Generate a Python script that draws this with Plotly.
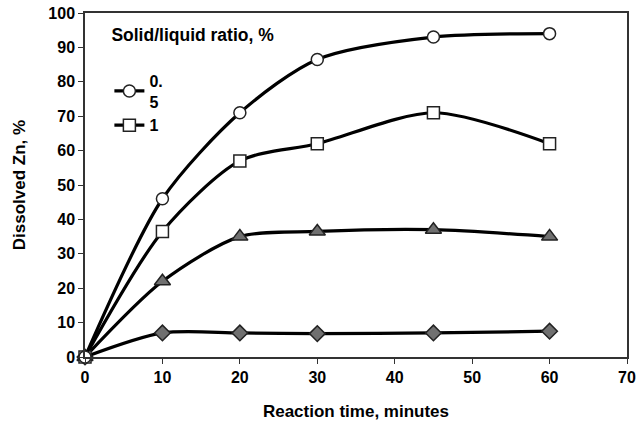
import plotly.graph_objects as go

time_min = [0, 10, 20, 30, 45, 60]
ratio_05 = [0, 46, 71, 86.5, 93, 94]
ratio_1 = [0, 36.5, 57, 62, 71, 62]
ratio_c = [0, 22, 35, 36.5, 37, 35]
ratio_d = [0, 7, 7, 6.8, 7, 7.5]

names = ["0.<br>5", "1", "c", "d"]
FONT = "Liberation Sans, Arial, sans-serif"

fig = go.Figure()
specs = [
    (ratio_d, "diamond", "#707070", 12, False, names[3], "g4", 4),
    (ratio_c, "triangle-up", "#707070", 14, False, names[2], "g3", 3),
    (ratio_1, "square", "white", 12, True, names[1], "g2", 2),
    (ratio_05, "circle", "white", 12, True, names[0], "g1", 1),
]
for ys, sym, fill, size, show, nm, grp, rank in specs:
    fig.add_trace(go.Scatter(
        x=time_min, y=ys, mode="lines+markers", name=nm, showlegend=show,
        legendgroup=grp, legendrank=rank,
        line=dict(color="black", width=3.2, shape="spline", smoothing=0.8),
        marker=dict(symbol=sym, size=size, color=fill, line=dict(color="#222", width=1.5)),
    ))

axis_common = dict(
    ticks="outside", ticklen=5, tickcolor="#333", showgrid=False, zeroline=False,
    showline=True, linecolor="#333", linewidth=1.5, mirror=True, automargin=False,
    ticklabeloverflow="allow",
    tickfont=dict(size=16, family=FONT, weight="bold"),
)
fig.update_layout(
    width=639, height=428,
    margin=dict(l=85, r=12, t=13, b=71),
    plot_bgcolor="white", paper_bgcolor="white",
    font=dict(family=FONT, size=14, color="black"),
    showlegend=True,
    legend=dict(
        title=dict(text="Solid/liquid ratio, %<br> ", font=dict(size=17.5, family=FONT, weight="bold")),
        x=0.045, y=0.985, xanchor="left", yanchor="top",
        bgcolor="rgba(0,0,0,0)", font=dict(size=16, family=FONT, weight="bold"),
        traceorder="grouped", tracegroupgap=0, itemwidth=30,
    ),
    xaxis=dict(
        range=[0, 70], tickvals=[0, 10, 20, 30, 40, 50, 60, 70],
        title=dict(text="Reaction time, minutes", standoff=20, font=dict(size=17, weight="bold")),
        **axis_common,
    ),
    yaxis=dict(
        range=[0, 100], tickvals=list(range(0, 101, 10)),
        title=dict(text="Dissolved Zn, %", standoff=18, font=dict(size=17, weight="bold")),
        **axis_common,
    ),
)
fig.update_traces(cliponaxis=False)

fig.write_html(
    "out.html",
    config={"displayModeBar": False},
    post_script="document.body.style.margin='0';document.body.style.overflow='hidden';",
)
